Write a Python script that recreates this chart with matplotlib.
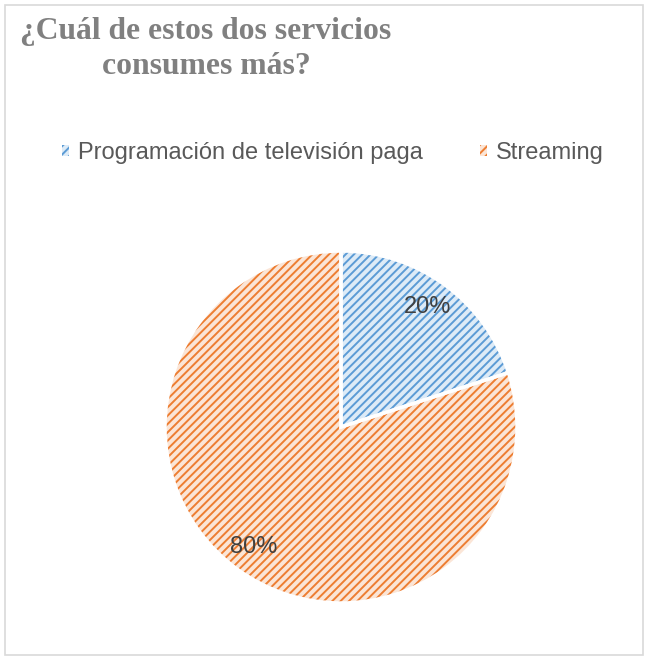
import matplotlib.pyplot as plt
from matplotlib.patches import Patch, Rectangle

labels = ['Programación de televisión paga', 'Streaming']
shares = [20, 80]
face_colors = ['#DDEBF7', '#FBE5D6']
hatch_colors = ['#5B9BD5', '#ED7D31']
title = '¿Cuál de estos dos servicios\nconsumes más?'

plt.rcParams['hatch.linewidth'] = 1.4

fig = plt.figure(figsize=(6.49, 6.61), dpi=100)
W, H = 649, 661

# pie area: center (341, 427) px, radius 176 px
cx, cy, r = 341, 427, 176
ax = fig.add_axes([(cx - r) / W, (H - cy - r) / H, 2 * r / W, 2 * r / H])

wedges, texts, autotexts = ax.pie(
    shares, colors=face_colors, startangle=90, counterclock=False,
    autopct='%1.0f%%', pctdistance=0.84,
    wedgeprops=dict(linewidth=0),
    textprops=dict(fontsize=17, color='#404040', family='Liberation Sans'))
for w, hc in zip(wedges, hatch_colors):
    w.set_hatch('////')
    w.set_edgecolor(hc)
    w.set_linewidth(0)

# white separators
ax.pie(shares, colors=['none', 'none'], startangle=90, counterclock=False,
       wedgeprops=dict(edgecolor='white', linewidth=2.5))
ax.set_xlim(-1, 1)
ax.set_ylim(-1, 1)
ax.set_aspect('equal')

# title
fig.text(206 / W, 1 - 49 / H, title, ha='center', va='center',
         fontsize=22.8, fontweight='bold', color='#808080',
         family='Liberation Serif', linespacing=1.3)

# legend
handles = [Patch(facecolor=fc, edgecolor=hc, hatch='////', linewidth=0)
           for fc, hc in zip(face_colors, hatch_colors)]
fig.legend(handles, labels, loc='center', bbox_to_anchor=(333 / W, 1 - 153 / H),
           ncol=2, frameon=False, handlelength=0.3, handleheight=0.3,
           handletextpad=0.4, columnspacing=2.4,
           prop=dict(family='Liberation Sans', size=17), labelcolor='#595959')

# chart border
fig.add_artist(Rectangle((5 / W, 6 / H), 638 / W, 650 / H, transform=fig.transFigure,
                         fill=False, edgecolor='#D9D9D9', linewidth=1.2))

fig.savefig('out.png', dpi=100, facecolor='white')
